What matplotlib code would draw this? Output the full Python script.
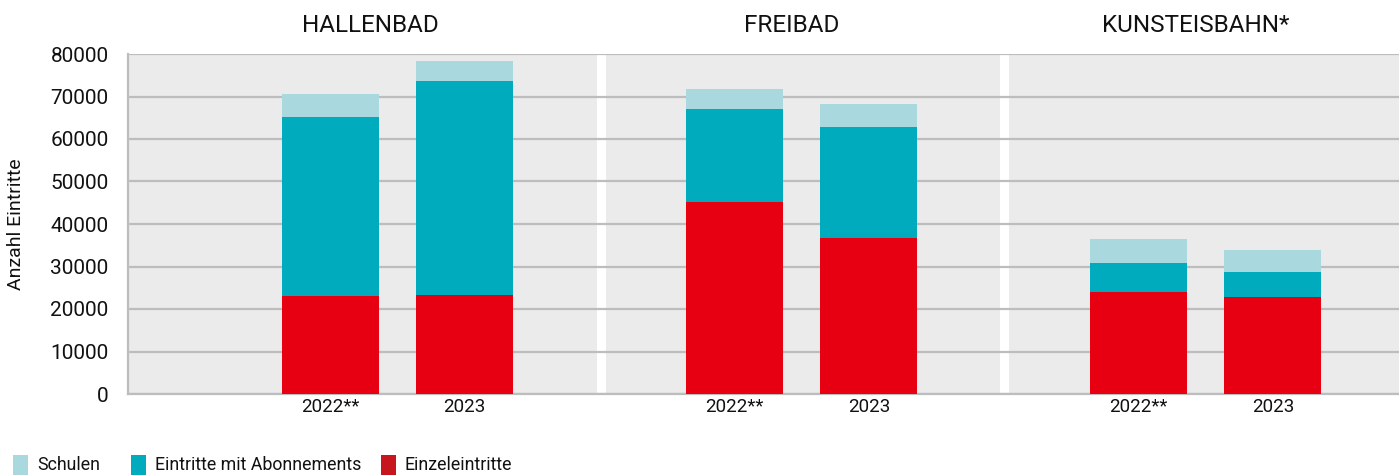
import matplotlib
matplotlib.use("Agg")
import matplotlib.pyplot as plt
from matplotlib.patches import Rectangle
from matplotlib.transforms import blended_transform_factory

# ---- data ----
groups = ["HALLENBAD", "FREIBAD", "KUNSTEISBAHN*"]
years = ["2022**", "2023"]
einzel = [23000, 23300, 45200, 36700, 24000, 22800]
abo = [42200, 50350, 21900, 26100, 6800, 5900]
schulen = [5400, 4700, 4700, 5400, 5700, 5200]
series_names = ["Schulen", "Eintritte mit Abonnements", "Einzeleintritte"]
yticks = [0, 10000, 20000, 30000, 40000, 50000, 60000, 70000, 80000]

# ---- style ----
plt.rcParams['font.family'] = ['Roboto', 'DejaVu Sans']

c_light = "#a9d9df"
c_teal = "#00abbd"
c_red = "#e60012"
c_red_leg = "#c8161e"
bg = "#ebebeb"
grid_c = "#bdbdbd"
text_c = "#111111"

W, H = 1399, 475
fig = plt.figure(figsize=(W / 100, H / 100), dpi=100)
ax_l, ax_b, ax_t = 128, 394, 54
ax = fig.add_axes([ax_l / W, (H - ax_b) / H, (W - ax_l) / W, (ax_b - ax_t) / H])
ax.set_facecolor(bg)

# positions: two bars per group, one empty slot between groups
pos = []
for g in range(len(groups)):
    pos += [1 + 3 * g, 2 + 3 * g]

bw = 0.72
ax.bar(pos, einzel, bw, color=c_red, zorder=3)
bottom2 = [a for a in einzel]
ax.bar(pos, abo, bw, bottom=bottom2, color=c_teal, zorder=3)
bottom3 = [a + b for a, b in zip(einzel, abo)]
ax.bar(pos, schulen, bw, bottom=bottom3, color=c_light, zorder=3)

ax.set_xlim(-0.5, -0.5 + (W - ax_l) / 134.7)
ax.set_ylim(0, 80000)

# white separators between panels
for s in [3.015, 6.01]:
    ax.axvspan(s - 0.033, s + 0.033, color="white", zorder=0.3, lw=0)

ax.set_axisbelow(True)
ax.yaxis.grid(True, color=grid_c, lw=1.6, zorder=0.5)
ax.set_yticks(yticks)
ax.set_yticklabels([str(v) for v in yticks])
ax.set_xticks(pos)
ax.set_xticklabels(years * len(groups))
ax.tick_params(axis='y', length=0, pad=14, labelsize=15, labelcolor=text_c)
ax.tick_params(axis='x', length=0, pad=3, labelsize=13.5, labelcolor=text_c)

for sp in ["top", "right"]:
    ax.spines[sp].set_visible(False)
ax.spines["left"].set_color(grid_c)
ax.spines["left"].set_linewidth(1.6)
ax.spines["bottom"].set_color(grid_c)
ax.spines["bottom"].set_linewidth(1.6)

ax.set_ylabel("Anzahl Eintritte", fontsize=14, color=text_c)
ax.yaxis.set_label_coords((25 - ax_l) / (W - ax_l), 0.5)

# panel titles
tr = blended_transform_factory(ax.transData, fig.transFigure)
for x, g in zip([1.30, 4.43, 7.43], groups):
    ax.text(x, (H - 26) / H, g, transform=tr, ha="center", va="center",
            fontsize=17.5, color=text_c)

# legend
leg_cols = [c_light, c_teal, c_red_leg]
leg_x = [13, 131, 381]
for x, c, n in zip(leg_x, leg_cols, series_names):
    fig.add_artist(Rectangle((x / W, 0), 15 / W, 20 / H, transform=fig.transFigure,
                             color=c, lw=0))
    fig.text((x + 24) / W, (H - 465) / H, n, ha="left", va="center",
             fontsize=12.8, color=text_c)

fig.savefig("out.png", dpi=100)
